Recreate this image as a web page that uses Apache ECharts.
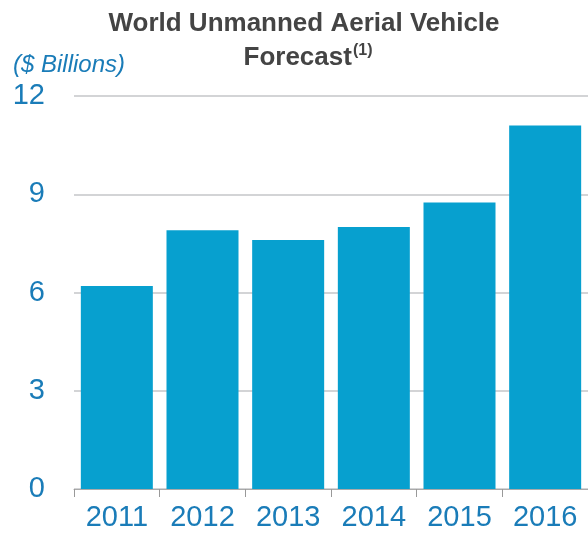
<!DOCTYPE html>
<html>
<head>
<meta charset="utf-8">
<script src="https://cdn.jsdelivr.net/npm/echarts@6/dist/echarts.min.js"></script>
<style>
  html, body { margin: 0; padding: 0; background: #fff; }
  #main { width: 588px; height: 538px; }
</style>
</head>
<body>
<div id="main"></div>
<script>
// 年份
var years = ['2011', '2012', '2013', '2014', '2015', '2016'];
// 市场规模 ($ Billions)
var values = [6.2, 7.9, 7.6, 8.0, 8.75, 11.1];
// y轴刻度
var yTicks = [0, 3, 6, 9, 12];

var blue = '#1a7cb8';
var myChart = echarts.init(document.getElementById('main'));

var option = {
    backgroundColor: '#fff',
    textStyle: { fontFamily: 'Liberation Sans' },
    title: [{
        text: 'World Unmanned Aerial Vehicle',
        left: 299, top: 6,
        textAlign: 'center',
        textStyle: { fontSize: 26, fontWeight: 'bold', color: '#444', fontFamily: 'Liberation Sans' }
    }, {
        text: '{a|Forecast}{s|(1)}',
        left: 303, top: 38,
        textAlign: 'center',
        textStyle: {
            rich: {
                a: { fontSize: 26, fontWeight: 'bold', color: '#444', fontFamily: 'Liberation Sans', verticalAlign: 'bottom' },
                s: { fontSize: 16, fontWeight: 'bold', color: '#444', fontFamily: 'Liberation Sans', verticalAlign: 'top', padding: [0, 0, 12, 1] }
            }
        }
    }, {
        text: '($ Billions)',
        left: 8, top: 48,
        textStyle: { fontSize: 24, fontStyle: 'italic', fontWeight: 'normal', color: blue, fontFamily: 'Liberation Sans' }
    }],
    grid: { left: 74, right: -2, top: 96, bottom: 49, containLabel: false },
    xAxis: {
        type: 'category',
        data: years,
        boundaryGap: true,
        axisLine: { lineStyle: { color: '#aaa', width: 1 } },
        axisTick: { show: true, length: 8, lineStyle: { color: '#999' } },
        axisLabel: { fontSize: 29, color: blue, margin: 14, fontFamily: 'Liberation Sans' }
    },
    yAxis: {
        type: 'value',
        min: yTicks[0],
        max: yTicks[yTicks.length - 1],
        interval: 3,
        axisLine: { show: false },
        axisTick: { show: false },
        axisLabel: { fontSize: 29, color: blue, margin: 29, padding: [0, 0, 8, 0], fontFamily: 'Liberation Sans' },
        splitLine: { lineStyle: { color: '#c4c6c8', width: 1.5 } }
    },
    series: [{
        type: 'bar',
        data: values,
        barWidth: 72,
        itemStyle: { color: '#07a0cf' },
        animation: false
    }],
    animation: false
};
myChart.setOption(option);
</script>
</body>
</html>
